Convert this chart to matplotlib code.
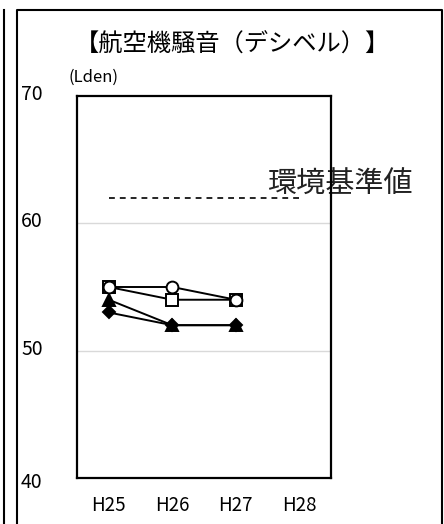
import matplotlib
matplotlib.use("Agg")
import matplotlib.pyplot as plt
from matplotlib.lines import Line2D

plt.rcParams['font.family'] = ['Noto Sans CJK JP', 'DejaVu Sans']

years = ["H25", "H26", "H27", "H28"]
site_circle = [55, 55, 54]
site_square = [55, 54, 54]
site_triangle = [54, 52, 52]
site_diamond = [53, 52, 52]
standard_value = 62
y_ticks = [40, 50, 60, 70]

W, H = 444, 524
fig = plt.figure(figsize=(W / 100, H / 100), dpi=100)

# panel frames
fig.add_artist(Line2D([17 / W, 17 / W, 442 / W, 442 / W],
                      [0, 1 - 10 / H, 1 - 10 / H, 0],
                      color="black", lw=1.5, transform=fig.transFigure))
fig.add_artist(Line2D([3.5 / W, 3.5 / W], [0, 1 - 10 / H],
                      color="black", lw=1.5, transform=fig.transFigure))

left, right, top, bottom = 77, 331, 96, 478
ax = fig.add_axes([left / W, 1 - bottom / H, (right - left) / W, (bottom - top) / H])
ax.set_xlim(-0.5, len(years) - 0.5)
ax.set_ylim(40, 70)

for v in [50, 60]:
    ax.axhline(v, color="#d9d9d9", lw=1, zorder=0)

x = list(range(len(site_circle)))
style = dict(color="black", lw=1.4, markeredgecolor="black",
             markeredgewidth=1.4, clip_on=False)
ax.plot(x, site_diamond, marker="D", markersize=6, markerfacecolor="black", **style, zorder=3)
ax.plot(x, site_triangle, marker="^", markersize=8.5, markerfacecolor="black", **style, zorder=4)
ax.plot(x, site_square, marker="s", markersize=8, markerfacecolor="white", **style, zorder=5)
ax.plot(x, site_circle, marker="o", markersize=8.5, markerfacecolor="white", **style, zorder=6)

# environmental quality standard
ax.plot([0, 3], [standard_value, standard_value], color="black", lw=1.2,
        linestyle=(0, (3.5, 3)), zorder=2)
ax.text(2.5, standard_value + 1.0, "環境基準値", fontsize=21, ha="left",
        va="center", color="#222222", zorder=1)

for s in ax.spines.values():
    s.set_linewidth(1.6)
    s.set_zorder(7)

ax.set_xticks(range(len(years)))
ax.set_xticklabels(years, fontsize=13.5)
ax.set_yticks([])
ax.tick_params(axis="x", length=0, pad=12)

# value labels sit in the outer panel, left of the plot area
for v in y_ticks:
    offset = 5 if v == y_ticks[0] else -1.5
    y_px = bottom - (v - 40) * (bottom - top) / 30 + offset
    fig.text(21 / W, 1 - y_px / H, str(v), fontsize=14, ha="left", va="center")

fig.text(232 / W, 1 - 45 / H, "【航空機騒音（デシベル）】", fontsize=17.5,
         ha="center", va="center")
fig.text(68 / W, 1 - 77 / H, "(Lden)", fontsize=12, ha="left", va="center")

fig.savefig("out.png", dpi=100)
